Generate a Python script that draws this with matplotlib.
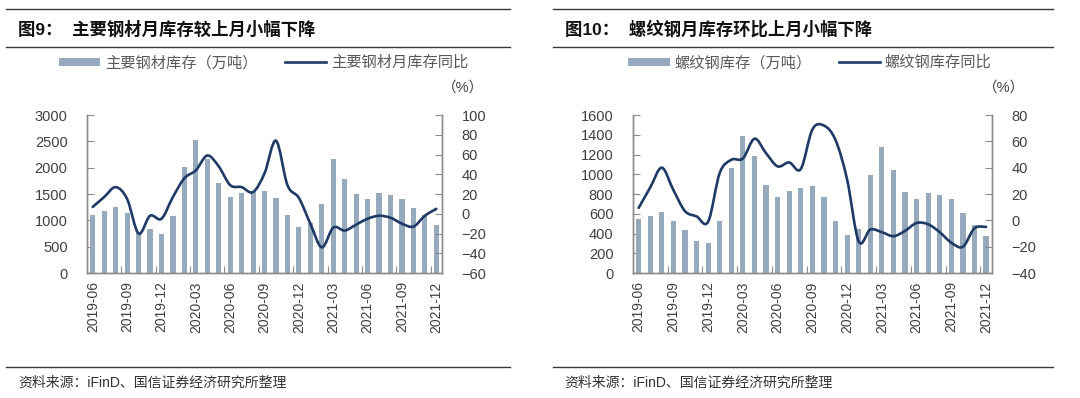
import matplotlib
matplotlib.use("Agg")
import matplotlib.pyplot as plt
from matplotlib.path import Path
from matplotlib.patches import PathPatch, Patch
from matplotlib.lines import Line2D
import numpy as np

plt.rcParams['font.family'] = ['Liberation Sans', 'Noto Sans CJK SC', 'DejaVu Sans']

months = ['2019-06', '2019-07', '2019-08', '2019-09', '2019-10', '2019-11', '2019-12',
          '2020-01', '2020-02', '2020-03', '2020-04', '2020-05', '2020-06', '2020-07',
          '2020-08', '2020-09', '2020-10', '2020-11', '2020-12', '2021-01', '2021-02',
          '2021-03', '2021-04', '2021-05', '2021-06', '2021-07', '2021-08', '2021-09',
          '2021-10', '2021-11', '2021-12']

steel_inventory = [1095, 1177, 1253, 1133, 753, 835, 734, 1076, 2006, 2525, 2158, 1709,
                   1437, 1513, 1544, 1557, 1430, 1095, 880, 943, 1310, 2165, 1785, 1494,
                   1411, 1513, 1484, 1411, 1234, 1100, 918]
steel_yoy = [7, 17, 27, 15, -20, -2, -5, 17, 36, 44, 59, 48, 29, 27, 22, 41, 74, 29, 16,
             -10, -34, -14, -17, -11, -5, -2, -4, -10, -13, -2, 5]

rebar_inventory = [545, 575, 615, 522, 440, 320, 300, 522, 1062, 1392, 1181, 890, 765,
                   832, 862, 880, 765, 522, 384, 450, 989, 1272, 1040, 820, 745, 815,
                   795, 745, 605, 490, 373]
rebar_yoy = [9.5, 25, 40, 23, 7, 3, -1, 36, 46, 47, 62, 51, 41, 44, 39, 69, 72, 61, 31,
             -16, -7, -9, -12, -8, -2, -3, -9, -17, -20, -6, -5]

BAR_C = '#97A9BC'
LINE_C = '#1F3A66'
TXT_C = '#404040'
SPINE_C = '#8C8C8C'


def smooth_path(xs, ys):
    pts = np.column_stack([xs, ys]).astype(float)
    n = len(pts)
    verts = [pts[0]]
    codes = [Path.MOVETO]
    for i in range(n - 1):
        p0 = pts[i - 1] if i > 0 else pts[i]
        p1 = pts[i]
        p2 = pts[i + 1]
        p3 = pts[i + 2] if i + 2 < n else pts[i + 1]
        c1 = p1 + (p2 - p0) / 6.0
        c2 = p2 - (p3 - p1) / 6.0
        verts += [c1, c2, p2]
        codes += [Path.CURVE4] * 3
    return Path(verts, codes)


fig = plt.figure(figsize=(10.8, 3.98), dpi=100)


def panel(left, width, bars, line, ylim_l, yticks_l, ylim_r, yticks_r):
    ax = fig.add_axes([left, 0.314, width, 0.397])
    x = np.arange(len(months))
    ax.bar(x, bars, width=0.45, color=BAR_C, zorder=2)
    ax.set_xlim(-0.5, len(months) - 0.5)
    ax.set_ylim(*ylim_l)
    ax.set_yticks(yticks_l)
    ax2 = ax.twinx()
    ax2.set_ylim(*ylim_r)
    ax2.set_yticks(yticks_r)
    ax2.add_patch(PathPatch(smooth_path(x, line), fill=False, edgecolor=LINE_C,
                            lw=1.9, zorder=3, capstyle='round'))
    # x ticks: marks at every 3-category boundary, labels at every 3rd category
    ax.set_xticks(np.arange(2.5, len(months) - 0.5, 3))
    ax.set_xticklabels([])
    ax.set_xticks(np.arange(0, len(months), 3), minor=True)
    ax.set_xticklabels([months[i] for i in range(0, len(months), 3)], minor=True,
                       rotation=90, fontsize=10, color=TXT_C)
    ax.tick_params(axis='x', which='minor', length=0, pad=6)
    ax.tick_params(axis='x', which='major', direction='in', length=5, color=SPINE_C)
    ax.tick_params(axis='y', direction='in', length=5, color=SPINE_C, labelsize=10.5,
                   labelcolor=TXT_C, pad=14)
    ax2.tick_params(axis='y', direction='in', length=5, color=SPINE_C, labelsize=10.5,
                    labelcolor=TXT_C, pad=14)
    for a in (ax, ax2):
        a.spines['top'].set_visible(False)
        for s in ('left', 'right', 'bottom'):
            a.spines[s].set_color(SPINE_C)
            a.spines[s].set_linewidth(1.0)
    return ax, ax2


panel(0.0806, 0.3287, steel_inventory, steel_yoy, (0, 3000),
      [0, 500, 1000, 1500, 2000, 2500, 3000], (-60, 100), list(range(-60, 101, 20)))
panel(0.586, 0.3324, rebar_inventory, rebar_yoy, (0, 1600),
      list(range(0, 1601, 200)), (-40, 80), list(range(-40, 81, 20)))

# header / footer rules
for (x0, x1) in ((0.006, 0.472), (0.512, 0.975)):
    for y in (0.977, 0.882, 0.078):
        fig.add_artist(Line2D([x0, x1], [y, y], transform=fig.transFigure,
                              color='#3A3A3A', lw=1.0))

title_font = ['Liberation Sans', 'Noto Sans CJK SC']
fig.text(0.017, 0.927, '图9：  主要钢材月库存较上月小幅下降', fontsize=12.5,
         fontweight='bold', family=title_font, va='center', ha='left', color='#111111')
fig.text(0.523, 0.927, '图10：  螺纹钢月库存环比上月小幅下降', fontsize=12.5,
         fontweight='bold', family=title_font, va='center', ha='left', color='#111111')

fig.text(0.017, 0.038, '资料来源：iFinD、国信证券经济研究所整理', fontsize=10,
         family=title_font, va='center', ha='left', color='#333333')
fig.text(0.523, 0.038, '资料来源：iFinD、国信证券经济研究所整理', fontsize=10,
         family=title_font, va='center', ha='left', color='#333333')

fig.text(0.429, 0.781, '（%）', fontsize=10.5, family=title_font, va='center',
         ha='center', color=TXT_C)
fig.text(0.930, 0.781, '（%）', fontsize=10.5, family=title_font, va='center',
         ha='center', color=TXT_C)


def legend(cx, bar_label, line_label):
    handles = [Patch(facecolor=BAR_C, edgecolor='none'),
               Line2D([], [], color=LINE_C, lw=1.9)]
    fig.legend(handles, [bar_label, line_label], loc='center',
               bbox_to_anchor=(cx, 0.842), ncol=2, frameon=False,
               handlelength=2.7, handleheight=0.45, columnspacing=1.8,
               handletextpad=0.3, labelcolor='#595959',
               prop={'family': title_font, 'size': 11})


legend(0.244, '主要钢材库存（万吨）', '主要钢材月库存同比')
legend(0.750, '螺纹钢库存（万吨）', '螺纹钢库存同比')

fig.savefig('out.png', dpi=100)
